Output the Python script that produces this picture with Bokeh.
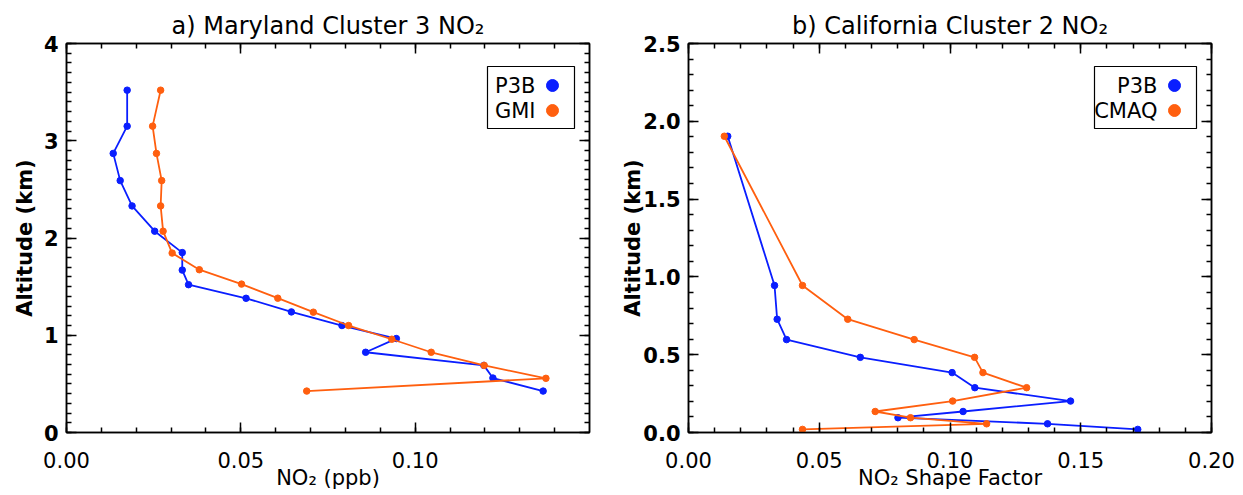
from bokeh.plotting import figure
from bokeh.layouts import row
from bokeh.models import (LinearAxis, SingleIntervalTicker, PrintfTickFormatter,
                          CustomJSTickFormatter, Range1d, BoxAnnotation, Label)
from bokeh.embed import file_html
from bokeh.resources import INLINE

FONT = "DejaVu Sans"
BLUE = "#0a1eff"
ORANGE = "#ff5f0f"

# ---------------- data ----------------
md_p3b_no2 = [0.0174, 0.0174, 0.0134, 0.0154, 0.0188, 0.0253, 0.0332, 0.0332, 0.0350,
              0.0515, 0.0645, 0.0790, 0.0946, 0.0858, 0.1197, 0.1223, 0.1367]
md_p3b_alt = [3.52, 3.15, 2.87, 2.59, 2.33, 2.07, 1.85, 1.67, 1.52,
              1.38, 1.24, 1.10, 0.966, 0.825, 0.69, 0.56, 0.426]
md_gmi_no2 = [0.0270, 0.0247, 0.0258, 0.0273, 0.0270, 0.0277, 0.0303, 0.0381, 0.0502,
              0.0606, 0.0708, 0.0809, 0.0933, 0.1046, 0.1198, 0.1375, 0.0689]
md_gmi_alt = [3.52, 3.15, 2.87, 2.59, 2.33, 2.07, 1.845, 1.674, 1.526,
              1.381, 1.237, 1.10, 0.959, 0.825, 0.69, 0.557, 0.426]

ca_alt = [1.904, 0.945, 0.728, 0.597, 0.483, 0.385, 0.288, 0.202, 0.135, 0.095, 0.056, 0.02]
ca_p3b_sf = [0.0150, 0.0329, 0.0339, 0.0375, 0.0657, 0.1008, 0.1095, 0.1461, 0.1050,
             0.0801, 0.1373, 0.1718]
ca_cmaq_sf = [0.0137, 0.0436, 0.0609, 0.0863, 0.1094, 0.1126, 0.1293, 0.1010, 0.0714,
              0.0849, 0.1140, 0.0436]

left_title = "a) Maryland Cluster 3 NO\u2082"
right_title = "b) California Cluster 2 NO\u2082"
left_xlabel = "NO\u2082 (ppb)"
right_xlabel = "NO\u2082 Shape Factor"
ylabel = "Altitude (km)"
left_names = ["P3B", "GMI"]
right_names = ["P3B", "CMAQ"]

FRAME_W = 523
FRAME_H = 389
HEIGHT = 495
TOP = 43


def style_axis(ax, show_labels, standoff=8, bold=False):
    ax.major_tick_in = 10
    ax.major_tick_out = 0
    ax.minor_tick_in = 5
    ax.minor_tick_out = 0
    ax.axis_line_width = 1.5
    ax.major_tick_line_width = 1.5
    ax.minor_tick_line_width = 1.5
    ax.axis_line_color = "black"
    ax.major_tick_line_color = "black"
    ax.minor_tick_line_color = "black"
    if show_labels:
        ax.major_label_text_font = FONT
        ax.major_label_text_font_size = "21px"
        ax.major_label_text_font_style = "bold" if bold else "normal"
        ax.major_label_text_color = "black"
        ax.major_label_standoff = standoff
        ax.axis_label_text_font = FONT
        ax.axis_label_text_font_size = "21px"
        ax.axis_label_text_font_style = "bold" if bold else "normal"
        ax.axis_label_text_color = "black"
    else:
        ax.formatter = CustomJSTickFormatter(code="return ''")
        ax.major_label_text_font_size = "0px"
        ax.major_label_standoff = 0


def make_panel(title, xlabel, xr, yr, xint, xminor, yint, yminor, xfmt, yfmt,
               series, names, min_left, min_right, ylab_standoff):
    width = min_left + FRAME_W + min_right
    p = figure(width=width, height=HEIGHT, output_backend="svg", toolbar_location=None,
               x_range=Range1d(*xr), y_range=Range1d(*yr),
               min_border_left=min_left, min_border_right=min_right,
               min_border_top=TOP, min_border_bottom=HEIGHT - TOP - FRAME_H)
    p.xgrid.visible = False
    p.ygrid.visible = False
    p.outline_line_color = "black"
    p.outline_line_width = 1.5
    p.background_fill_color = "white"
    p.border_fill_color = "white"

    p.title.text = title
    p.title.align = "center"
    p.title.text_font = FONT
    p.title.text_font_size = "24px"
    p.title.text_font_style = "normal"
    p.title.text_color = "black"
    p.title.standoff = 7

    xt = SingleIntervalTicker(interval=xint, num_minor_ticks=xminor)
    yt = SingleIntervalTicker(interval=yint, num_minor_ticks=yminor)

    xa = p.xaxis[0]
    xa.ticker = xt
    xa.formatter = PrintfTickFormatter(format=xfmt)
    xa.axis_label = xlabel
    style_axis(xa, True, standoff=19)
    xa.axis_label_standoff = -5

    ya = p.yaxis[0]
    ya.ticker = yt
    ya.formatter = PrintfTickFormatter(format=yfmt)
    ya.axis_label = ylabel
    style_axis(ya, True, standoff=8, bold=True)
    ya.axis_label_standoff = ylab_standoff

    top = LinearAxis(ticker=SingleIntervalTicker(interval=xint, num_minor_ticks=xminor))
    style_axis(top, False)
    p.add_layout(top, "above")
    right = LinearAxis(ticker=SingleIntervalTicker(interval=yint, num_minor_ticks=yminor))
    style_axis(right, False)
    p.add_layout(right, "right")

    for (xs, ys), color in zip(series, [BLUE, ORANGE]):
        p.line(xs, ys, line_color=color, line_width=1.8)
        p.scatter(xs, ys, size=6.5, fill_color=color, line_color=color)

    # legend (text then dot, as in the original)
    units = dict(left_units="screen", right_units="screen",
                 top_units="screen", bottom_units="screen")
    box_left = 421 if len(max(names, key=len)) <= 3 else 406
    p.add_layout(BoxAnnotation(left=box_left, right=508, bottom=304, top=366,
                               fill_color="white", fill_alpha=1.0,
                               line_color="black", line_alpha=1.0, line_width=1.2,
                               **units))
    for name, color, ry in zip(names, [BLUE, ORANGE], [347, 322]):
        p.add_layout(Label(x=469, y=ry, x_units="screen", y_units="screen", text=name,
                           text_align="right", text_baseline="middle",
                           text_font=FONT, text_font_size="21px", text_color="black"))
        p.add_layout(BoxAnnotation(left=480, right=492, bottom=ry - 6, top=ry + 6,
                                   fill_color=color, fill_alpha=1.0, line_color=color,
                                   line_alpha=1.0, border_radius=6, **units))
    return p


p1 = make_panel(left_title, left_xlabel, (0, 0.15), (0, 4), 0.05, 5, 1, 10, "%.2f", "%d",
                [(md_p3b_no2, md_p3b_alt), (md_gmi_no2, md_gmi_alt)], left_names,
                66, 27, 4)
p2 = make_panel(right_title, right_xlabel, (0, 0.20), (0, 2.5), 0.05, 5, 0.5, 5, "%.2f", "%.1f",
                [(ca_p3b_sf, ca_alt), (ca_cmaq_sf, ca_alt)], right_names,
                72, 32, -5)

layout = row(p1, p2)
open("out.html", "w").write(file_html(layout, INLINE))
